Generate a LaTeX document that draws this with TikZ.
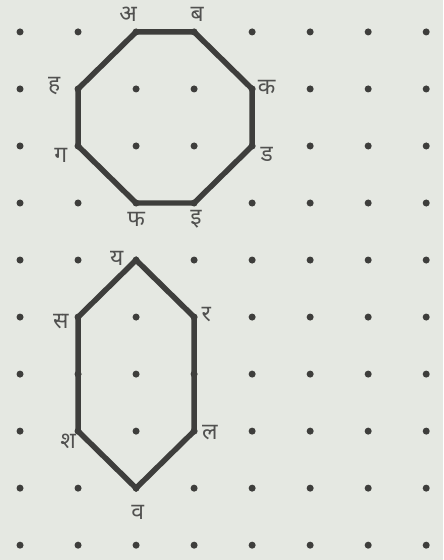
\documentclass[tikz,border=0pt]{standalone}
\usepackage{fontspec}
\newfontfamily\devfont[Script=Devanagari]{Noto Sans}
\usetikzlibrary{positioning}
\definecolor{paper}{RGB}{229,232,226}
\definecolor{ink}{RGB}{62,62,60}
\tikzset{
  dot/.style={circle, fill=ink, inner sep=0pt, minimum size=4pt},
  edge/.style={draw=ink, line width=3.1pt, line join=miter},
  lab/.style={font=\devfont\fontsize{13}{14}\selectfont, text=ink!90, inner sep=0pt}
}

\begin{document}
\begin{tikzpicture}[x=1.16cm, y=1.14cm]
		\fill[paper] (-0.345,0.56) rectangle (7.293,-9.26);
		\useasboundingbox (-0.345,0.56) rectangle (7.293,-9.26);
		% dot grid
		\foreach \i in {0,...,7}
			\foreach \j in {0,...,9}
				\node[dot] (d\i-\j) at (\i,-\j) {};
		% octagon corners
		\coordinate (A) at (2,0);
		\coordinate (B) at (3,0);
		\coordinate (K) at (4,-1);
		\coordinate (D) at (4,-2);
		\coordinate (I) at (3,-3);
		\coordinate (F) at (2,-3);
		\coordinate (G) at (1,-2);
		\coordinate (H) at (1,-1);
		% hexagon corners
		\coordinate (Y) at (2,-4);
		\coordinate (R) at (3,-5);
		\coordinate (L) at (3,-7);
		\coordinate (V) at (2,-8);
		\coordinate (Sh) at (1,-7);
		\coordinate (S) at (1,-5);
		\draw[edge] (A) -- (B) -- (K) -- (D) -- (I) -- (F) -- (G) -- (H) -- cycle;
		\draw[edge] (Y) -- (R) -- (L) -- (V) -- (Sh) -- (S) -- cycle;
		% labels
		\node[lab, xshift=-4.5pt, yshift=9.8pt] (lA) at (A) {अ};
		\node[lab, xshift=1.7pt, yshift=9.8pt] (lB) at (B) {ब};
		\node[lab, xshift=8.3pt, yshift=1.1pt] (lK) at (K) {क};
		\node[lab, xshift=8.3pt, yshift=-4.5pt] (lD) at (D) {ड};
		\node[lab, xshift=1.1pt, yshift=-9.4pt] (lI) at (I) {इ};
		\node[lab, xshift=0pt, yshift=-9.4pt] (lF) at (F) {फ};
		\node[lab, xshift=-9.8pt, yshift=-5.1pt] (lG) at (G) {ग};
		\node[lab, xshift=-13.6pt, yshift=1.7pt] (lH) at (H) {ह};
		\node[lab, xshift=-11pt, yshift=1pt] (lY) at (Y) {य};
		\node[lab, xshift=7pt, yshift=1.7pt] (lR) at (R) {र};
		\node[lab, xshift=9pt, yshift=-0.6pt] (lL) at (L) {ल};
		\node[lab, xshift=1pt, yshift=-13.6pt] (lV) at (V) {व};
		\node[lab, xshift=-5.6pt, yshift=-5.9pt] (lSh) at (Sh) {श};
		\node[lab, xshift=-9.8pt, yshift=-2.3pt] (lS) at (S) {स};
	\end{tikzpicture}
\end{document}
